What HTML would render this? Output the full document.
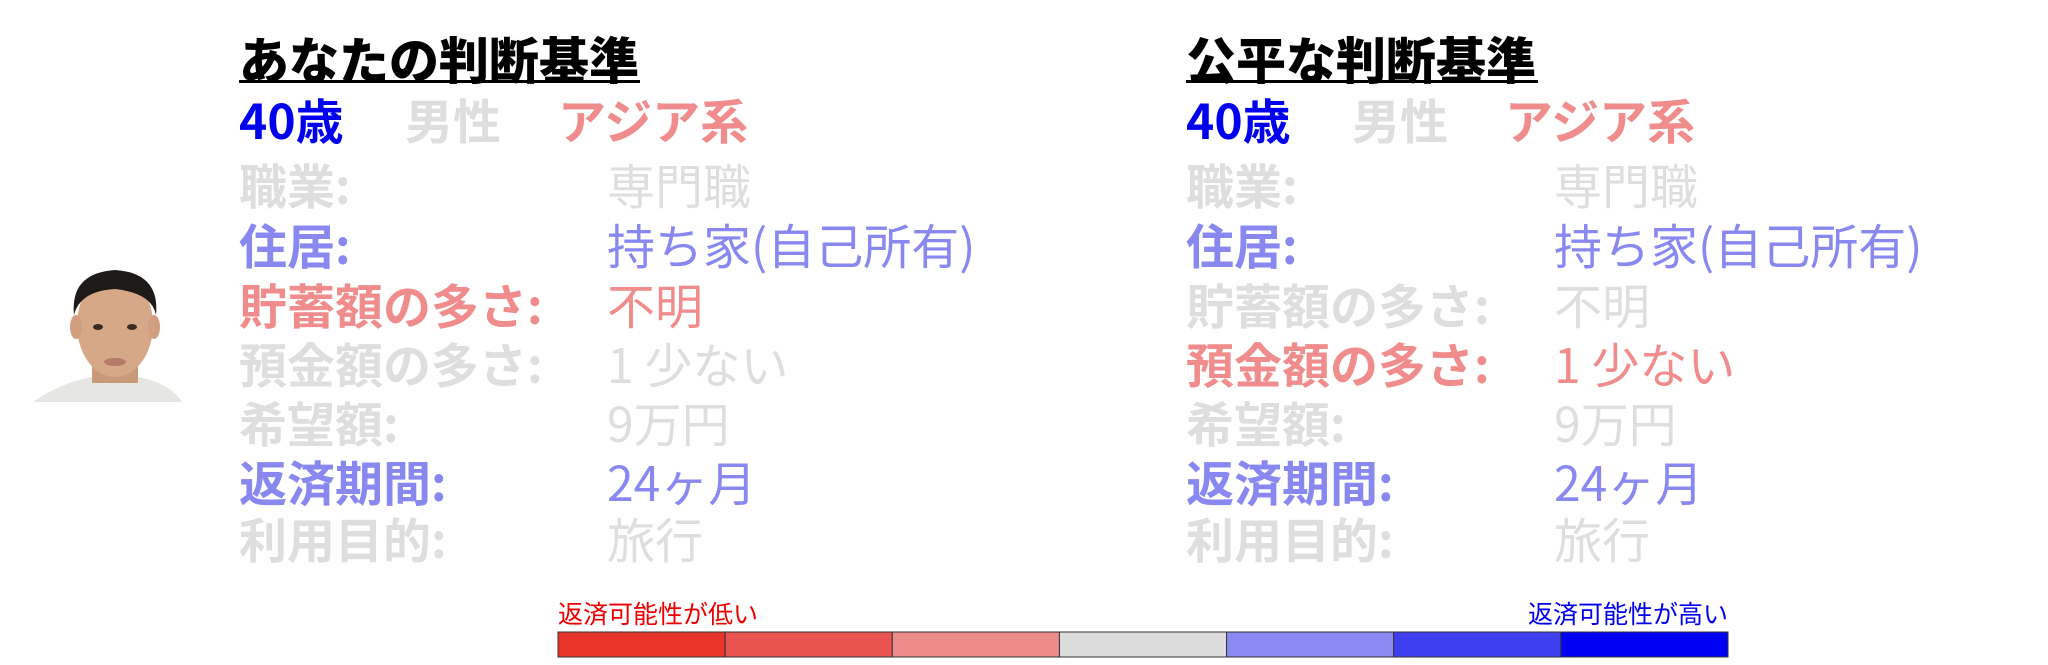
<!DOCTYPE html>
<html><head><meta charset="utf-8">
<style>
html,body{margin:0;padding:0;background:#fff;}
#root{position:relative;width:2048px;height:665px;overflow:hidden;font-family:"Noto Sans CJK JP","Liberation Sans",sans-serif;}
.t{position:absolute;white-space:nowrap;line-height:1;}
.title{font-size:50px;font-weight:900;color:#000;}
.ul{position:absolute;height:3px;background:#000;}
.r{font-size:48px;}
.b{font-weight:700;}
.blue{color:#0000ee}.lb{color:#8888f0}.gr{color:#dedede}.pk{color:#f08c8c}
</style></head><body>
<div id="root">
<svg style="position:absolute;left:30px;top:265px" width="160" height="140">
<path d="M3 137 Q30 118 62 112 L108 112 Q140 118 152 137 Z" fill="#e6e6e3"/>
<rect x="62" y="88" width="46" height="30" fill="#c99a7a"/>
<ellipse cx="85" cy="60" rx="38" ry="52" fill="#d6a888"/>
<ellipse cx="46" cy="62" rx="6" ry="12" fill="#cf9f80"/>
<ellipse cx="124" cy="62" rx="6" ry="12" fill="#cf9f80"/>
<path d="M44 50 Q40 8 85 5 Q130 8 126 50 Q122 28 85 24 Q50 26 44 50Z" fill="#1d1a18"/>
<ellipse cx="68" cy="62" rx="5" ry="3" fill="#3a2a20"/><ellipse cx="102" cy="62" rx="5" ry="3" fill="#3a2a20"/>
<ellipse cx="85" cy="97" rx="11" ry="4" fill="#b57a68"/>
</svg>

<div class="t title" style="left:239px;top:33px">あなたの判断基準</div>
<div class="ul" style="left:239px;top:80px;width:401px"></div>
<div class="t r b blue" style="left:239px;top:94px">40歳</div>
<div class="t r b gr" style="left:405px;top:94px">男性</div>
<div class="t r b pk" style="left:558px;top:94px">アジア系</div>

<div class="t r b gr" style="left:239px;top:159px">職業:</div>
<div class="t r gr" style="left:607px;top:159px">専門職</div>
<div class="t r b lb" style="left:239px;top:219px">住居:</div>
<div class="t r lb" style="left:607px;top:219px">持ち家(自己所有)</div>
<div class="t r b pk" style="left:239px;top:279px">貯蓄額の多さ:</div>
<div class="t r pk" style="left:607px;top:279px">不明</div>
<div class="t r b gr" style="left:239px;top:338px">預金額の多さ:</div>
<div class="t r gr" style="left:607px;top:338px">1 少ない</div>
<div class="t r b gr" style="left:239px;top:397px">希望額:</div>
<div class="t r gr" style="left:607px;top:397px">9万円</div>
<div class="t r b lb" style="left:239px;top:456px">返済期間:</div>
<div class="t r lb" style="left:607px;top:456px">24ヶ月</div>
<div class="t r b gr" style="left:239px;top:513px">利用目的:</div>
<div class="t r gr" style="left:607px;top:513px">旅行</div>

<div class="t title" style="left:1186px;top:33px">公平な判断基準</div>
<div class="ul" style="left:1186px;top:80px;width:352px"></div>
<div class="t r b blue" style="left:1186px;top:94px">40歳</div>
<div class="t r b gr" style="left:1352px;top:94px">男性</div>
<div class="t r b pk" style="left:1505px;top:94px">アジア系</div>

<div class="t r b gr" style="left:1186px;top:159px">職業:</div>
<div class="t r gr" style="left:1554px;top:159px">専門職</div>
<div class="t r b lb" style="left:1186px;top:219px">住居:</div>
<div class="t r lb" style="left:1554px;top:219px">持ち家(自己所有)</div>
<div class="t r b gr" style="left:1186px;top:279px">貯蓄額の多さ:</div>
<div class="t r gr" style="left:1554px;top:279px">不明</div>
<div class="t r b pk" style="left:1186px;top:338px">預金額の多さ:</div>
<div class="t r pk" style="left:1554px;top:338px">1 少ない</div>
<div class="t r b gr" style="left:1186px;top:397px">希望額:</div>
<div class="t r gr" style="left:1554px;top:397px">9万円</div>
<div class="t r b lb" style="left:1186px;top:456px">返済期間:</div>
<div class="t r lb" style="left:1554px;top:456px">24ヶ月</div>
<div class="t r b gr" style="left:1186px;top:513px">利用目的:</div>
<div class="t r gr" style="left:1554px;top:513px">旅行</div>

<div class="t" style="left:558px;top:601px;font-size:25px;color:#ee0000">返済可能性が低い</div>
<div class="t" style="left:1428px;top:601px;font-size:25px;color:#0000ee;width:300px;text-align:right">返済可能性が高い</div>
<svg id="cbar" style="position:absolute;left:0;top:0" width="2048" height="665"></svg>
</div>
<script>
const levels = [1,2,3,4,5,6,7];
const levelColors = ["#e8342a","#ea5450","#ee8c8a","#dcdcdc","#8a8af2","#3f3ff0","#0000f5"];
const x0=558,x1=1728,y0=632,h=25;
const svg=document.getElementById('cbar');
const w=(x1-x0)/levels.length;
levels.forEach((lv,i)=>{
  const r=document.createElementNS('http://www.w3.org/2000/svg','rect');
  r.setAttribute('x',x0+i*w);r.setAttribute('y',y0);r.setAttribute('width',w);r.setAttribute('height',h);
  r.setAttribute('fill',levelColors[i]);r.setAttribute('stroke','#333');r.setAttribute('stroke-width','1');
  
  
  svg.appendChild(r);
});
</script>
</body></html>
